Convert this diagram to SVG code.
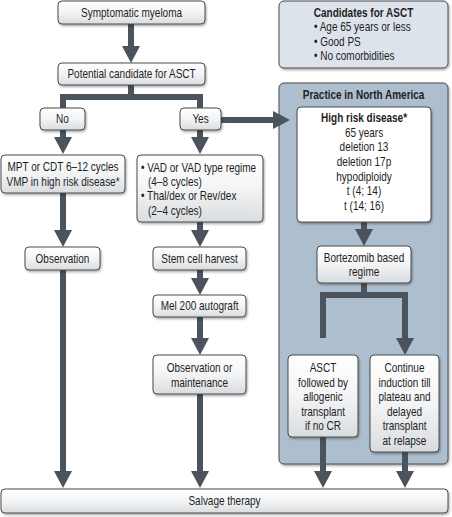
<svg xmlns="http://www.w3.org/2000/svg" width="452" height="517" viewBox="0 0 452 517">
<style>
text { font-family: "Liberation Sans", Arial, sans-serif; font-size: 12.5px; fill: #1e1e1e; text-anchor: middle; transform-box: fill-box; transform-origin: center; transform: scaleX(0.8); }
text.l { text-anchor: start; transform-origin: left center; }
text.b { font-weight: bold; }
.box { fill: url(#g); stroke: #4a4a4a; stroke-width: 1; filter: url(#sh); }
.wbox { fill: #ffffff; stroke: #4a4a4a; stroke-width: 1; filter: url(#sh); }
.cbox { fill: #dde3ea; stroke: #4a4a4a; stroke-width: 1; filter: url(#sh); }
.pbox { fill: #adbfcf; stroke: #4a4a4a; stroke-width: 1; filter: url(#sh); }
.c { fill: none; stroke: #4b545c; stroke-width: 6; stroke-linejoin: miter; }
.a { marker-end: url(#ah); }
</style>
<defs>
<linearGradient id="g" x1="0" y1="0" x2="0" y2="1">
<stop offset="0" stop-color="#ffffff"/>
<stop offset="0.5" stop-color="#f3f4f5"/>
<stop offset="1" stop-color="#d9dcdf"/>
</linearGradient>
<filter id="sh" x="-10%" y="-10%" width="120%" height="130%">
<feDropShadow dx="1" dy="1.5" stdDeviation="0.8" flood-color="#000" flood-opacity="0.35"/>
</filter>
<marker id="ah" markerUnits="userSpaceOnUse" markerWidth="17" markerHeight="18" refX="0" refY="9" orient="auto" viewBox="0 0 17 18">
<path d="M0,0 L17,9 L0,18 z" fill="#4b545c"/>
</marker>
</defs>

<g id="n12"><rect class="cbox" x="279" y="1" width="169" height="67" rx="5"/>
<text class="b" x="363.5" y="17">Candidates for ASCT</text>
<text class="l" x="314" y="31">•  Age 65 years or less</text>
<text class="l" x="314" y="46">•  Good PS</text>
<text class="l" x="314" y="60">•  No comorbidities</text></g>

<g id="n13"><rect class="pbox" x="279" y="83" width="169" height="381" rx="5"/>
<text class="b" x="363.5" y="99">Practice in North America</text></g>

<g id="connectors">
<path class="c a" d="M131,24 V46"/>
<path class="c" d="M131,85 V97"/>
<path class="c" d="M63,108 V97 H200 V108"/>
<path class="c a" d="M63,130 V137"/>
<path class="c a" d="M200,130 V137"/>
<path class="c a" d="M221,120 H273"/>
<path class="c a" d="M63,193 V230"/>
<path class="c a" d="M63,270 V471"/>
<path class="c a" d="M200,222 V230"/>
<path class="c a" d="M200,270 V278"/>
<path class="c a" d="M200,317 V338"/>
<path class="c a" d="M200,394 V471"/>
<path class="c a" d="M364,222 V229"/>
<path class="c" d="M364,283 V295"/>
<path class="c a" d="M323,338 V295 H405 V338"/>
<path class="c a" d="M323,437 V471"/>
<path class="c a" d="M405,452 V471"/>
</g>

<g id="n1"><rect class="box" x="58" y="1" width="147" height="23" rx="4"/>
<text x="131.5" y="17">Symptomatic myeloma</text></g>

<g id="n2"><rect class="box" x="58" y="63" width="147" height="22" rx="4"/>
<text x="131.5" y="78.5">Potential candidate for ASCT</text></g>

<g id="n3"><rect class="box" x="40" y="108" width="45" height="22" rx="4"/>
<text x="62.5" y="123.5">No</text></g>

<g id="n4"><rect class="box" x="180" y="108" width="41" height="22" rx="4"/>
<text x="200.5" y="123.5">Yes</text></g>

<g id="n5"><rect class="box" x="1" y="155" width="124" height="38" rx="4"/>
<text x="63" y="171">MPT or CDT 6–12 cycles</text>
<text x="63" y="186">VMP in high risk disease*</text></g>

<g id="n6"><rect class="box" x="137" y="155" width="126" height="67" rx="4"/>
<text class="l" x="141" y="172">•  VAD or VAD type regime</text>
<text class="l" x="148" y="186">(4–8 cycles)</text>
<text class="l" x="141" y="200">•  Thal/dex or Rev/dex</text>
<text class="l" x="148" y="215">(2–4 cycles)</text></g>

<g id="n7"><rect class="box" x="25" y="247" width="75" height="23" rx="4"/>
<text x="62.5" y="263">Observation</text></g>

<g id="n8"><rect class="box" x="153" y="247" width="93" height="23" rx="4"/>
<text x="199.5" y="263">Stem cell harvest</text></g>

<g id="n9"><rect class="box" x="153" y="295" width="93" height="22" rx="4"/>
<text x="199.5" y="310.5">Mel 200 autograft</text></g>

<g id="n10"><rect class="box" x="153" y="355" width="93" height="39" rx="4"/>
<text x="199.5" y="372">Observation or</text>
<text x="199.5" y="387">maintenance</text></g>

<g id="n11"><rect class="box" x="1" y="489" width="447" height="24" rx="4"/>
<text x="224.5" y="505.5">Salvage therapy</text></g>

<g id="n14"><rect class="wbox" x="297" y="107" width="134" height="115" rx="4"/>
<text class="b" x="364" y="122">High risk disease*</text>
<text x="364" y="137">65 years</text>
<text x="364" y="151">deletion 13</text>
<text x="364" y="166">deletion 17p</text>
<text x="364" y="181">hypodiploidy</text>
<text x="364" y="195">t (4; 14)</text>
<text x="364" y="210">t (14; 16)</text></g>

<g id="n15"><rect class="box" x="317" y="246" width="94" height="37" rx="4"/>
<text x="364" y="262">Bortezomib based</text>
<text x="364" y="276">regime</text></g>

<g id="n16"><rect class="box" x="288" y="355" width="70" height="82" rx="4"/>
<text x="323" y="372">ASCT</text>
<text x="323" y="387">followed by</text>
<text x="323" y="401">allogenic</text>
<text x="323" y="416">transplant</text>
<text x="323" y="430">if no CR</text></g>

<g id="n17"><rect class="box" x="370" y="355" width="69" height="97" rx="4"/>
<text x="404.5" y="372">Continue</text>
<text x="404.5" y="387">induction till</text>
<text x="404.5" y="401">plateau and</text>
<text x="404.5" y="416">delayed</text>
<text x="404.5" y="430">transplant</text>
<text x="404.5" y="445">at relapse</text></g>
</svg>
